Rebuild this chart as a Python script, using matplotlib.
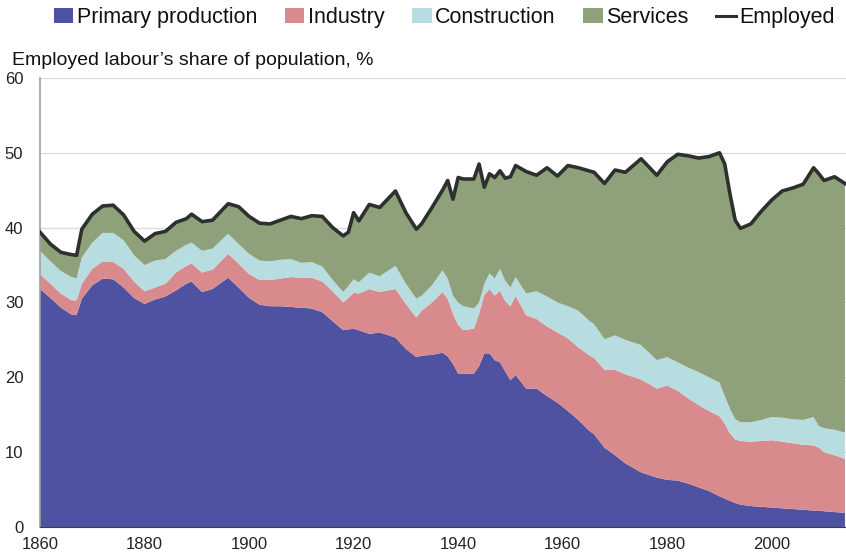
import numpy as np
import matplotlib.pyplot as plt
from matplotlib.patches import Patch
from matplotlib.lines import Line2D

plt.rcParams['font.family'] = ['Liberation Sans Narrow', 'Liberation Sans', 'DejaVu Sans']

# years (irregular spacing, where the curves turn)
years = [1860, 1862, 1864, 1866, 1867, 1868, 1870, 1872, 1874, 1876,
         1878, 1880, 1882, 1884, 1886, 1888, 1889, 1891, 1893, 1896,
         1898, 1900, 1902, 1904, 1906, 1908, 1910, 1912, 1914, 1916,
         1918, 1919, 1920, 1921, 1923, 1925, 1928, 1930, 1932, 1933,
         1935, 1937, 1938, 1939, 1940, 1941, 1943, 1944, 1945, 1946,
         1947, 1948, 1949, 1950, 1951, 1953, 1955, 1957, 1959, 1961,
         1963, 1965, 1966, 1968, 1970, 1972, 1975, 1978, 1980, 1982,
         1984, 1986, 1988, 1990, 1991, 1992, 1993, 1994, 1996, 1998,
         2000, 2002, 2004, 2006, 2008, 2009, 2010, 2012, 2014]

# share of population, % (per sector)
primary = [31.8, 30.6, 29.3, 28.4, 28.3, 30.5, 32.3, 33.2, 33.1, 32.0,
           30.6, 29.8, 30.4, 30.8, 31.6, 32.5, 32.8, 31.4, 31.8, 33.3,
           32.0, 30.6, 29.7, 29.5, 29.5, 29.4, 29.3, 29.2, 28.7, 27.5,
           26.3, 26.4, 26.5, 26.3, 25.8, 26.0, 25.3, 23.8, 22.7, 22.9,
           23.0, 23.3, 22.8, 21.8, 20.5, 20.5, 20.5, 21.5, 23.2, 23.2,
           22.3, 22.0, 20.8, 19.6, 20.3, 18.5, 18.5, 17.5, 16.6, 15.5,
           14.3, 12.9, 12.4, 10.6, 9.6, 8.5, 7.3, 6.6, 6.3, 6.2,
           5.8, 5.3, 4.8, 4.1, 3.8, 3.5, 3.2, 3.0, 2.8, 2.7,
           2.6, 2.5, 2.4, 2.3, 2.2, 2.2, 2.1, 2.0, 1.9]

industry = [2.0, 1.9, 1.9, 1.9, 2.0, 2.0, 2.2, 2.3, 2.3, 2.5,
            2.2, 1.7, 1.6, 1.7, 2.4, 2.4, 2.4, 2.6, 2.6, 3.2,
            3.2, 3.2, 3.3, 3.5, 3.7, 4.0, 4.0, 4.1, 4.1, 4.0,
            3.7, 4.2, 4.8, 4.9, 6.0, 5.4, 6.5, 6.0, 5.3, 6.0,
            7.0, 8.1, 7.7, 6.7, 6.5, 5.8, 6.0, 7.0, 7.8, 8.6,
            8.6, 9.6, 9.4, 9.9, 10.6, 9.8, 9.3, 9.3, 9.4, 9.7,
            9.7, 10.1, 10.2, 10.4, 11.4, 11.9, 12.4, 11.9, 12.6, 12.0,
            11.4, 11.0, 10.7, 10.7, 10.0, 9.0, 8.5, 8.5, 8.6, 8.8,
            9.0, 8.9, 8.8, 8.7, 8.7, 8.4, 7.9, 7.6, 7.2]

construction = [3.1, 3.0, 3.0, 3.1, 2.9, 3.5, 3.5, 3.8, 3.9, 3.8,
                3.5, 3.5, 3.6, 3.3, 2.9, 2.8, 2.8, 2.9, 2.8, 2.7,
                2.6, 2.7, 2.6, 2.5, 2.5, 2.4, 2.0, 2.1, 2.0, 1.5,
                1.4, 1.6, 1.8, 1.5, 2.2, 2.1, 3.1, 2.7, 2.5, 2.0,
                2.3, 2.9, 2.7, 2.4, 3.0, 3.2, 2.7, 1.5, 1.5, 2.1,
                2.3, 2.9, 2.7, 2.5, 2.5, 2.9, 3.7, 4.0, 4.0, 4.3,
                4.9, 4.6, 4.5, 4.1, 4.6, 4.6, 4.6, 3.8, 3.8, 3.8,
                4.1, 4.4, 4.5, 4.5, 3.7, 3.3, 2.7, 2.5, 2.6, 2.8,
                3.1, 3.2, 3.2, 3.3, 3.8, 2.9, 3.2, 3.4, 3.5]

services = [2.5, 2.3, 2.5, 3.0, 3.1, 3.8, 3.8, 3.6, 3.7, 3.4,
            3.2, 3.2, 3.6, 3.7, 3.8, 3.5, 3.8, 3.9, 3.8, 4.0,
            5.0, 5.0, 5.0, 5.0, 5.3, 5.7, 5.9, 6.2, 6.7, 7.0,
            7.5, 7.2, 8.9, 8.2, 9.1, 9.2, 10.0, 9.5, 9.3, 9.6,
            10.4, 10.7, 13.1, 12.9, 16.7, 17.0, 17.3, 18.5, 12.9, 13.3,
            13.5, 13.1, 13.7, 14.8, 14.9, 16.3, 15.5, 17.2, 16.9, 18.8,
            19.1, 20.0, 20.3, 20.8, 22.1, 22.4, 24.9, 24.7, 26.1, 27.8,
            28.3, 28.6, 29.5, 30.7, 31.0, 28.7, 26.6, 25.9, 26.5, 27.9,
            29.0, 30.3, 30.9, 31.5, 33.3, 33.7, 33.1, 33.8, 33.3]

labels = ['Primary production', 'Industry', 'Construction', 'Services']
colors = ['#4E52A0', '#D98A8C', '#B8DDE1', '#8FA17A']

employed = np.array(primary) + np.array(industry) + np.array(construction) + np.array(services)

fig = plt.figure(figsize=(8.46, 5.53), dpi=100)
ax = fig.add_axes([0.0473, 0.047, 0.9527, 0.812])

ax.stackplot(years, primary, industry, construction, services,
             colors=colors, linewidth=0, zorder=2)
ax.plot(years, employed, color='#2D312D', lw=2.6, zorder=3, solid_joinstyle='round')

ax.set_xlim(1860, 2014.2)
ax.set_ylim(0, 60)
ax.set_xticks(range(1860, 2011, 10))
ax.set_xticklabels([str(y) if y % 20 == 0 else '' for y in range(1860, 2011, 10)])
ax.set_yticks(range(0, 61, 10))
ax.yaxis.grid(True, color='#DADADA', lw=0.9, zorder=0)
ax.set_axisbelow(True)

for s in ['top', 'right']:
    ax.spines[s].set_visible(False)
ax.spines['left'].set_color('#A0A0A0')
ax.spines['left'].set_linewidth(1.2)
ax.spines['bottom'].set_color('#404040')
ax.spines['bottom'].set_zorder(4)
ax.tick_params(axis='x', direction='in', length=4, color='#404040', labelsize=12,
               pad=7, labelcolor='#222222')
ax.tick_params(axis='y', length=0, labelsize=12, pad=12, labelcolor='#222222')

fig.text(0.014, 0.891, "Employed labour\u2019s share of population, %",
         fontsize=14, color='#111111', va='center', ha='left')

handles = [Patch(facecolor=c, edgecolor='none') for c in colors]
handles.append(Line2D([0], [0], color='#2D312D', lw=2.2))
fig.legend(handles, labels + ['Employed'], loc='center', bbox_to_anchor=(0.525, 0.968),
           ncol=5, frameon=False, fontsize=15.5, handlelength=0.9, handleheight=0.7,
           handletextpad=0.15, columnspacing=1.3, labelcolor='#111111')

fig.savefig('out.png', dpi=100)
